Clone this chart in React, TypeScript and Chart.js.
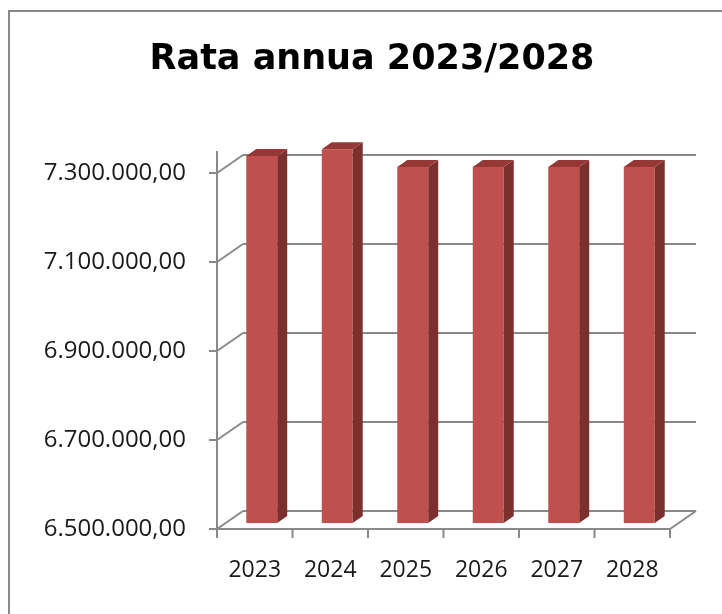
import React, { useEffect, useRef } from 'react';
import { Chart, registerables } from 'chart.js';

Chart.register(...registerables);

const TITLE = 'Rata annua 2023/2028';
const YEARS = ['2023', '2024', '2025', '2026', '2027', '2028'];
const RATA = [7325000, 7340000, 7300000, 7300000, 7300000, 7300000];
const Y_MIN = 6500000;
const Y_MAX = 7300000;
const Y_STEP = 200000;

const FRONT = '#C0504D';
const SIDE = '#7C302E';
const TOP = '#953735';
const LINE = '#898989';

const WALL_DX = 26;
const WALL_DY = -18;
const BAR_SHIFT_X = 7;
const BAR_SHIFT_Y = -6;
const BAR_DX = 10;
const BAR_DY = -7;

function fmt(v: number): string {
  const [i, d] = Math.abs(v).toFixed(2).split('.');
  return i.replace(/\B(?=(\d{3})+(?!\d))/g, '.') + ',' + d;
}

const walls3d = {
  id: 'walls3d',
  beforeDatasetsDraw(chart: any) {
    const { ctx, chartArea: a, scales } = chart;
    const y = scales.y;
    const line = (x1: number, y1: number, x2: number, y2: number) => {
      ctx.beginPath();
      ctx.moveTo(x1, y1);
      ctx.lineTo(x2, y2);
      ctx.stroke();
    };
    ctx.save();
    ctx.strokeStyle = LINE;
    ctx.lineWidth = 2;
    y.ticks.forEach((t: any) => {
      const py = y.getPixelForValue(t.value);
      line(a.left, py, a.left + WALL_DX, py + WALL_DY);
      line(a.left + WALL_DX, py + WALL_DY, a.right + WALL_DX, py + WALL_DY);
      line(a.left - 8, py, a.left, py);
    });
    // floor front and right edges
    line(a.left, a.bottom, a.right, a.bottom);
    line(a.right, a.bottom, a.right + WALL_DX, a.bottom + WALL_DY);
    // vertical axis line
    line(a.left, a.top - 22, a.left, a.bottom + 9);
    // category ticks
    const n = chart.data.labels.length;
    const w = (a.right - a.left) / n;
    for (let i = 0; i <= n; i++) {
      const px = a.left + i * w;
      line(px, a.bottom, px, a.bottom + 9);
    }
    ctx.restore();
    ctx.save();
    ctx.translate(BAR_SHIFT_X, BAR_SHIFT_Y);
  },
  afterDatasetsDraw(chart: any) {
    const { ctx } = chart;
    const meta = chart.getDatasetMeta(0);
    const poly = (pts: number[][], color: string) => {
      ctx.fillStyle = color;
      ctx.beginPath();
      ctx.moveTo(pts[0][0], pts[0][1]);
      for (let i = 1; i < pts.length; i++) ctx.lineTo(pts[i][0], pts[i][1]);
      ctx.closePath();
      ctx.fill();
    };
    meta.data.forEach((bar: any) => {
      const { x, y, base, width } = bar.getProps(['x', 'y', 'base', 'width'], true);
      const l = x - width / 2;
      const r = x + width / 2;
      poly([[r, y], [r + BAR_DX, y + BAR_DY], [r + BAR_DX, base + BAR_DY], [r, base]], SIDE);
      poly([[l, y], [l + BAR_DX, y + BAR_DY], [r + BAR_DX, y + BAR_DY], [r, y]], TOP);
    });
    ctx.restore();
  },
  afterDraw(chart: any) {
    const { ctx } = chart;
    ctx.save();
    ctx.fillStyle = '#000';
    ctx.font = 'bold 35px "DejaVu Sans", sans-serif';
    ctx.textAlign = 'center';
    ctx.textBaseline = 'alphabetic';
    ctx.fillText(TITLE, chart.width / 2 + 11, 69);
    ctx.restore();
  },
};

export default function App() {
  const ref = useRef<HTMLCanvasElement>(null);
  useEffect(() => {
    const chart = new Chart(ref.current as HTMLCanvasElement, {
      type: 'bar',
      data: {
        labels: YEARS,
        datasets: [
          {
            data: RATA,
            base: Y_MIN,
            backgroundColor: FRONT,
            borderWidth: 0,
            barPercentage: 0.41,
            categoryPercentage: 1,
            clip: false as any,
          },
        ],
      },
      options: {
        responsive: true,
        maintainAspectRatio: false,
        animation: false,
        layout: { padding: { left: 0, right: 52, top: 173, bottom: 0 } },
        plugins: {
          legend: { display: false },
          tooltip: { enabled: false },
          title: { display: false },
        },
        scales: {
          x: {
            grid: { display: false, drawTicks: false },
            border: { display: false },
            ticks: {
              font: { family: '"Open Sans", sans-serif', size: 23 },
              color: '#1a1a1a',
              padding: 28,
              maxRotation: 0,
            },
            afterFit: (s: any) => {
              s.height = 85;
            },
          },
          y: {
            min: Y_MIN,
            max: Y_MAX,
            grid: { display: false, drawTicks: false },
            border: { display: false },
            ticks: {
              stepSize: Y_STEP,
              font: { family: '"Open Sans", sans-serif', size: 24 },
              color: '#1a1a1a',
              padding: 31,
              callback: (v: any) => fmt(Number(v)),
            },
            afterFit: (s: any) => {
              s.width = 217;
            },
          },
        },
      },
      plugins: [walls3d],
    });
    return () => chart.destroy();
  }, []);

  return (
    <div style={{ position: 'fixed', left: 0, top: 0, width: 722, height: 614, background: '#fff', overflow: 'hidden' }}>
      <div
        style={{
          position: 'absolute',
          left: 8,
          top: 10,
          width: 800,
          height: 700,
          borderLeft: '2px solid #888',
          borderTop: '2px solid #888',
        }}
      />
      <div style={{ position: 'absolute', left: 0, top: 0, width: 722, height: 614 }}>
        <canvas ref={ref} />
      </div>
    </div>
  );
}
